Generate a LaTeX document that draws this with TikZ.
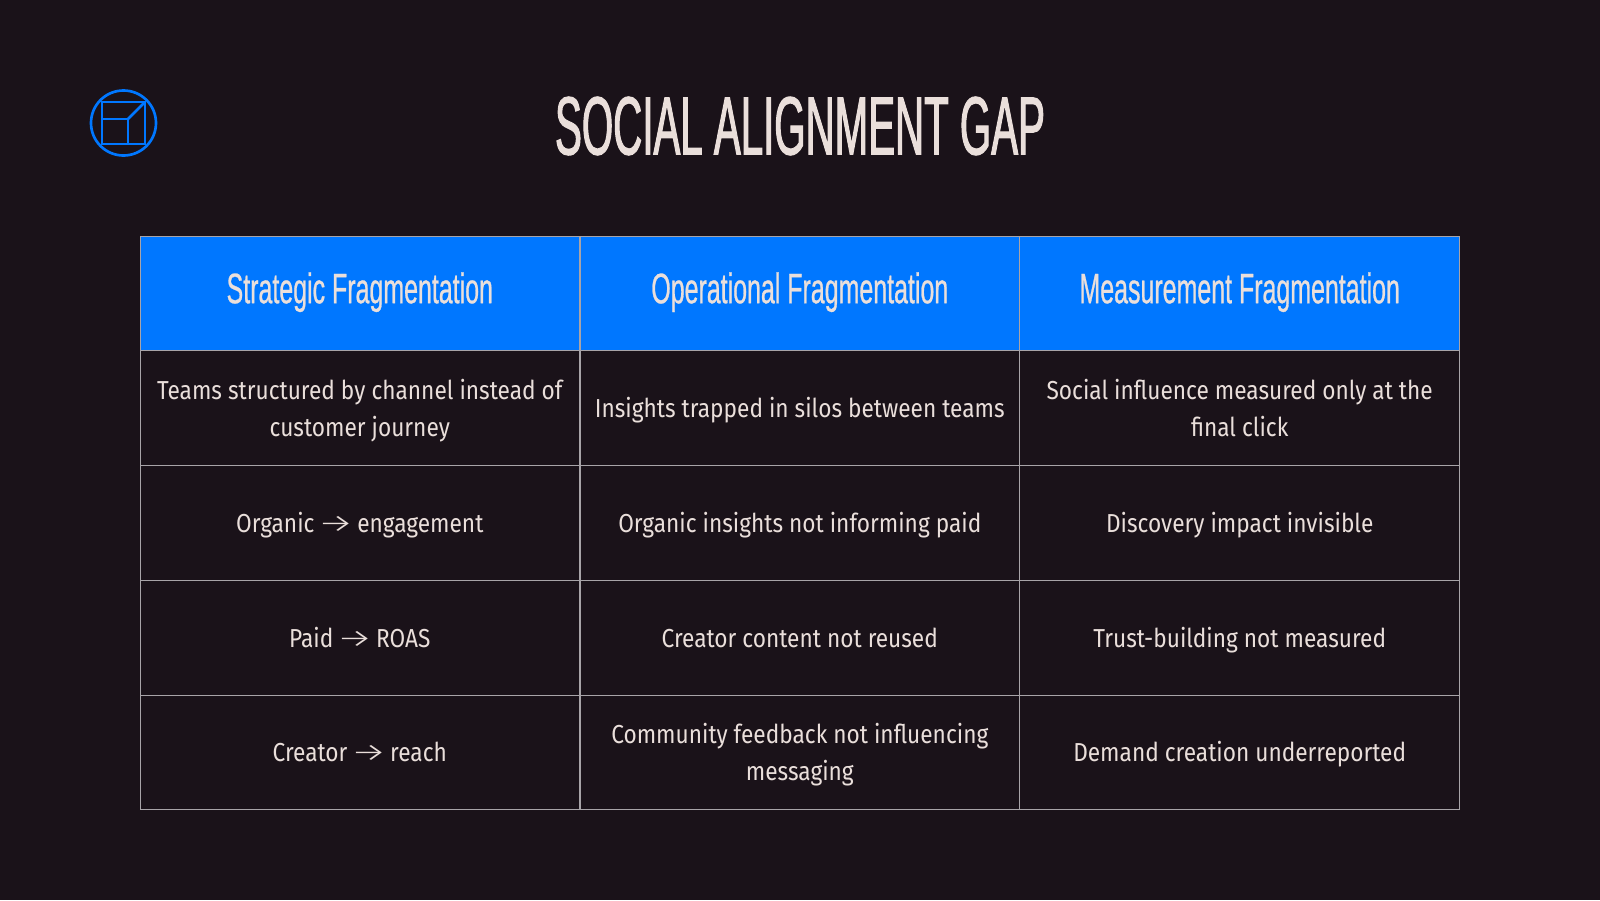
\documentclass[tikz,border=0pt]{standalone}
\usepackage{fontspec}
\setmainfont{Fira Sans}[FakeStretch=0.872]
\newfontfamily\titlefont{Liberation Sans}[FakeStretch=0.487,FakeBold=1.2]
\newfontfamily\headfont{Liberation Sans}[FakeStretch=0.585,FakeBold=0.6]
\newfontfamily\arrowfont{Fira Sans Light}[FakeStretch=1.6]
\definecolor{bgc}{HTML}{1A1219}
\definecolor{bluec}{HTML}{0077FF}
\definecolor{txtc}{HTML}{EADFDB}
\definecolor{linec}{HTML}{A8A4A8}
\newcommand{\toarrow}{\hspace{-2.5pt}{\arrowfont\char"2192}\hspace{-2.5pt}}
\newcommand{\cl}[1]{\rule[-6.9pt]{0pt}{28pt}#1}
\newcommand{\hl}[1]{\rule[-9.4pt]{0pt}{33.4pt}#1}
\tikzset{
  x=0.75pt,y=-0.75pt,
  cellbase/.style={draw=linec,line width=0.75pt,minimum width=329.6pt,minimum height=86pt,inner sep=0pt,anchor=center,align=center,text=txtc},
  headcell/.style={cellbase,fill=bluec,font=\headfont\fontsize{32}{36}\selectfont},
  bodycell/.style={cellbase,font=\fontsize{19.5}{28}\selectfont},
  icon/.style={draw=bluec,line width=2pt},
}
\begin{document}
\begin{tikzpicture}
\useasboundingbox[fill=bgc] (0,0) rectangle (1600,900);
\node[text=txtc,font=\titlefont\fontsize{62}{62}\selectfont] (title) at (800,126) {SOCIAL ALIGNMENT GAP};
% icon
\draw[icon] (123.5,123) circle (32.5);
\draw[icon] (102,102) rectangle (145,144);
\draw[icon] (102,119) -- (128,119) -- (128,144);
\draw[icon] (128,119) -- (145,102);
% header
\node[headcell] (h1) at (359.8,293.5) {\hl{Strategic Fragmentation}};
\node[headcell] (h2) at (799.8,293.5) {\hl{Operational Fragmentation}};
\node[headcell] (h3) at (1239.7,293.5) {\hl{Measurement Fragmentation}};
% rows
\node[bodycell] (a1) at (359.8,408.3) {\cl{Teams structured by channel instead of}\\\cl{customer journey}};
\node[bodycell] (a2) at (799.8,408.3) {\cl{Insights trapped in silos between teams}};
\node[bodycell] (a3) at (1239.7,408.3) {\cl{Social influence measured only at the}\\\cl{final click}};
\node[bodycell] (b1) at (359.8,523) {\cl{Organic \toarrow{} engagement}};
\node[bodycell] (b2) at (799.8,523) {\cl{Organic insights not informing paid}};
\node[bodycell] (b3) at (1239.7,523) {\cl{Discovery impact invisible}};
\node[bodycell] (c1) at (359.8,637.7) {\cl{Paid \toarrow{} ROAS}};
\node[bodycell] (c2) at (799.8,637.7) {\cl{Creator content not reused}};
\node[bodycell] (c3) at (1239.7,637.7) {\cl{Trust-building not measured}};
\node[bodycell] (d1) at (359.8,752.4) {\cl{Creator \toarrow{} reach}};
\node[bodycell] (d2) at (799.8,752.4) {\cl{Community feedback not influencing}\\\cl{messaging}};
\node[bodycell] (d3) at (1239.7,752.4) {\cl{Demand creation underreported}};
\end{tikzpicture}
\end{document}
